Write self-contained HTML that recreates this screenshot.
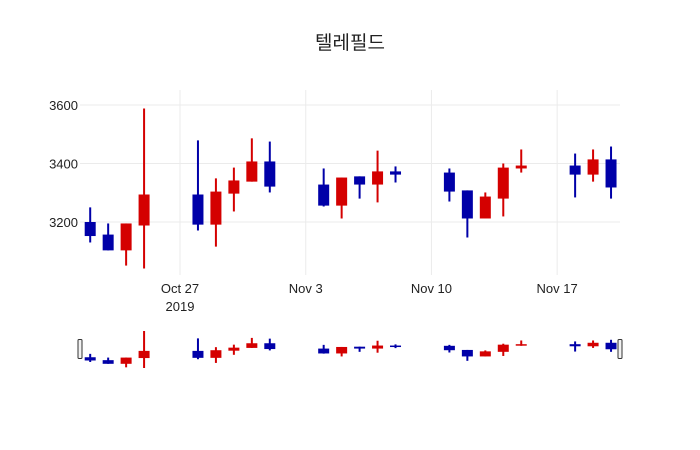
<!DOCTYPE html>
<html><head><meta charset="utf-8"><style>
body{margin:0;background:#fff;}
svg{display:block;font-family:"Liberation Sans","Noto Sans CJK KR",sans-serif;}
</style></head><body>
<svg id="c" width="700" height="450">
<text x="350" y="49" text-anchor="middle" font-size="19" fill="#222">텔레필드</text>
<g id="grid"></g><g id="marks"></g><g id="slider"></g>
</svg>
<script>
const dates=["2019-10-22","2019-10-23","2019-10-24","2019-10-25","2019-10-28","2019-10-29","2019-10-30","2019-10-31","2019-11-01","2019-11-04","2019-11-05","2019-11-06","2019-11-07","2019-11-08","2019-11-11","2019-11-12","2019-11-13","2019-11-14","2019-11-15","2019-11-18","2019-11-19","2019-11-20"];
const opens=[3200,3157,3103,3188,3294,3191,3297,3338,3407,3328,3256,3356,3328,3373,3369,3308,3212,3280,3383,3393,3362,3414];
const highs=[3250,3195,3195,3588,3479,3349,3386,3486,3475,3383,3352,3356,3444,3390,3383,3308,3301,3400,3448,3434,3448,3458];
const lows=[3130,3103,3051,3041,3171,3116,3236,3338,3301,3253,3212,3280,3267,3335,3270,3147,3212,3219,3369,3284,3338,3280];
const closes=[3152,3103,3195,3294,3191,3304,3342,3407,3321,3256,3352,3328,3373,3362,3304,3212,3287,3386,3393,3362,3414,3318];
const yTicks=[3200,3400,3600];
const xTicks=["2019-10-27","2019-11-03","2019-11-10","2019-11-17"];
const xTickLabels=["Oct 27","Nov 3","Nov 10","Nov 17"];
const NS="http://www.w3.org/2000/svg";
const day=86400000, t0=Date.parse("2019-10-27");
const X=d=>180+(Date.parse(d)-t0)/day*17.96;
const Y=v=>105+(3600-v)*0.2925;
const sMin=Math.min(...lows), sMax=Math.max(...highs);
const SY=v=>331+(sMax-v)/(sMax-sMin)*37;
function mk(tag,at,parent){const e=document.createElementNS(NS,tag);for(const k in at)e.setAttribute(k,at[k]);parent.appendChild(e);return e;}
const grid=document.getElementById('grid'),marks=document.getElementById('marks'),sl=document.getElementById('slider');
yTicks.forEach(v=>{
 const l=mk('line',{x1:80,x2:620,y1:Y(v),y2:Y(v),stroke:'#ebebeb'},grid);
 
 const t=mk('text',{x:78,y:Y(v)+5,'text-anchor':'end','font-size':13,fill:'#222'},grid);t.textContent=v;
 
});
xTicks.forEach((d,i)=>{
 const l=mk('line',{x1:X(d),x2:X(d),y1:90,y2:275,stroke:'#ebebeb'},grid);
 
 const t=mk('text',{x:X(d),y:293,'text-anchor':'middle','font-size':13,fill:'#222'},grid);t.textContent=xTickLabels[i];
 
});
const yr=mk('text',{x:X(xTicks[0]),y:311,'text-anchor':'middle','font-size':13,fill:'#222'},grid);yr.textContent="2019";

dates.forEach((d,i)=>{
 const up=closes[i]>=opens[i],col=up?'#d40000':'#0000a8',x=X(d);
 const g=mk('g',{},marks);
 
 mk('line',{x1:x,x2:x,y1:Y(highs[i]),y2:Y(lows[i]),stroke:col,'stroke-width':2},g);
 const top=Y(Math.max(opens[i],closes[i])),bot=Y(Math.min(opens[i],closes[i]));
 mk('rect',{x:x-5.5,y:top,width:11,height:Math.max(bot-top,1.5),fill:col},g);
 const s=mk('g',{},sl);
 
 mk('line',{x1:x,x2:x,y1:SY(highs[i]),y2:SY(lows[i]),stroke:col,'stroke-width':2},s);
 const st=SY(Math.max(opens[i],closes[i])),sb=SY(Math.min(opens[i],closes[i]));
 mk('rect',{x:x-5.5,y:st,width:11,height:Math.max(sb-st,1.5),fill:col},s);
});
[[78],[618]].forEach(([hx],i)=>{
 const h=mk('rect',{x:hx,y:339.5,width:4,height:19,rx:1,fill:'#f2f2f2',stroke:'#333','stroke-width':1},sl);
 
});
</script>
</body></html>
